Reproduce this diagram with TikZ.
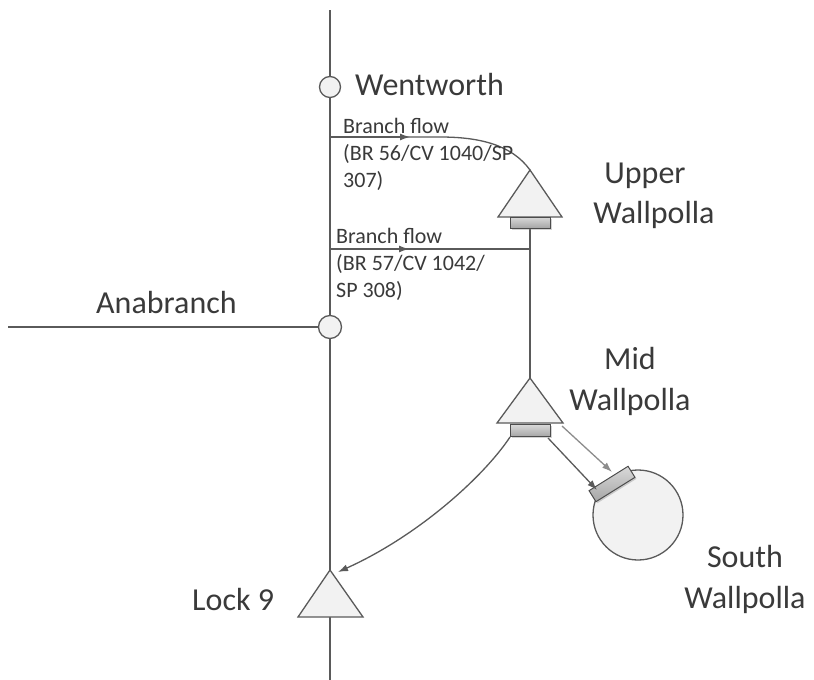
\documentclass[tikz,border=0pt]{standalone}
\usepackage{fontspec}
\setmainfont{Carlito}
\usetikzlibrary{arrows.meta,shadows}
\definecolor{ln}{HTML}{5A5A5A}
\definecolor{txt}{HTML}{3A3A3A}
\definecolor{fillc}{HTML}{F2F2F2}
\tikzset{
  tri/.style={draw=ln, fill=fillc, line width=1.3pt, line join=miter},
  gate/.style={draw=ln!85!black, rectangle, line width=1pt, inner sep=0pt,
    top color=gray!30, bottom color=gray!70,
    drop shadow={shadow xshift=1.5pt, shadow yshift=-1.5pt, opacity=0.35}},
  junc/.style={circle, draw=ln, fill=fillc, line width=1.3pt, inner sep=0pt},
  big/.style={font=\fontsize{32}{38}\selectfont, text=txt, inner sep=0pt},
  small/.style={font=\fontsize{22}{27}\selectfont, text=txt, inner sep=0pt},
  lnk/.style={draw=ln, line width=1.3pt},
  flow/.style={lnk, -{Latex[length=10pt,width=7pt]}}
}
\begin{document}
\begin{tikzpicture}[x=1pt,y=-1pt]
\useasboundingbox (0,0) rectangle (814,680);
% coordinates
\coordinate (top) at (330,10);
\coordinate (bot) at (330,680);
\coordinate (anaW) at (8,327);
\coordinate (b1s) at (330,137);
\coordinate (b1m) at (410,137);
\coordinate (b1k) at (440,137);
\coordinate (b2s) at (330,249);
\coordinate (b2m) at (409,249);
\coordinate (b2e) at (530,249);
\coordinate (Uap) at (530,170);
\coordinate (Map) at (530,378);
\coordinate (Lap) at (330,570);
\coordinate (Mright) at (562,426);
\coordinate (Mg1) at (548,438);
\coordinate (Sg1) at (597,490);
\coordinate (Sg2) at (612,472);
\coordinate (Mg2) at (510,437);
\coordinate (Lk) at (338,572);

% main river
\draw[lnk] (top) -- (bot);
\draw[lnk] (anaW) -- (330,327);
% branch flows
\draw[lnk] (b1s) -- (b1k) .. controls (480,137) and (512,145) .. (Uap);
\draw[flow] (b1s) -- (b1m);
\draw[lnk] (b2s) -- (b2e);
\draw[flow] (b2s) -- (b2m);
% link upper -> mid
\draw[lnk] (530,228) -- (Map);

% junctions
\node[junc, minimum size=21pt] (went) at (330,87) {};
\node[junc, minimum size=23pt] (ana) at (330,327) {};

% triangles
\draw[tri] (Uap) -- (562,217) -- (498,217) -- cycle;
\node[gate, minimum width=40pt, minimum height=11pt] (Ug) at (530,222.5) {};
\draw[tri] (Map) -- (563,423) -- (497,423) -- cycle;
\node[gate, minimum width=40pt, minimum height=12pt] (Mg) at (530,430.5) {};
\draw[tri] (Lap) -- (363,617) -- (298,617) -- cycle;

% south wallpolla
\node[junc, minimum size=90pt] (south) at (638,515) {};
\node[gate, minimum width=46pt, minimum height=13pt, rotate=32] (Sg) at (612,484) {};

% flows from mid
\draw[flow] (Mg1) -- (Sg1);
\draw[flow, draw=gray!90] (Mright) -- (Sg2);
\draw[flow] (Mg2) .. controls (485,475) and (420,535) .. (Lk);

% labels
\node[big, anchor=base west] (tWent) at (355,95) {Wentworth};
\node[big, anchor=base west] (tAna) at (96,313) {Anabranch};
\node[big, anchor=base] (tUp1) at (645,183) {Upper};
\node[big, anchor=base] (tUp2) at (654,223) {Wallpolla};
\node[big, anchor=base] (tMid1) at (630,369) {Mid};
\node[big, anchor=base] (tMid2) at (630,410) {Wallpolla};
\node[big, anchor=base west] (tLock) at (192,610) {Lock 9};
\node[big, anchor=base] (tS1) at (745,567) {South};
\node[big, anchor=base] (tS2) at (745,608) {Wallpolla};

\node[small, anchor=base west] (f1a) at (343,133) {Branch flow};
\node[small, anchor=base west] (f1b) at (343,160) {(BR 56/CV 1040/SP};
\node[small, anchor=base west] (f1c) at (343,187) {307)};
\node[small, anchor=base west] (f2a) at (336,243) {Branch flow};
\node[small, anchor=base west] (f2b) at (336,270) {(BR 57/CV 1042/};
\node[small, anchor=base west] (f2c) at (336,297) {SP 308)};
\end{tikzpicture}
\end{document}
